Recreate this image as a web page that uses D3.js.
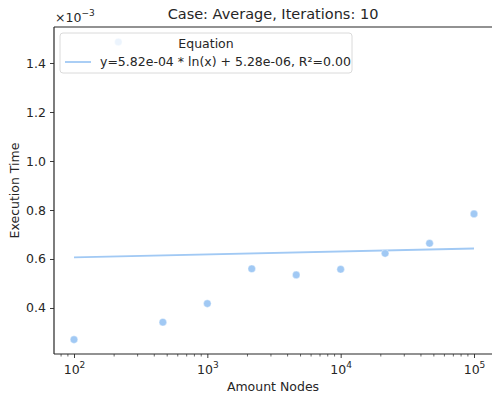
<!DOCTYPE html>
<html>
<head>
<meta charset="utf-8">
<script src="https://cdn.jsdelivr.net/npm/d3@7"></script>
<style>
  body { margin: 0; background: #fff; }
  text { font-family: "DejaVu Sans", sans-serif; fill: #262626; }
</style>
</head>
<body>
<svg id="chart" width="492" height="398"></svg>
<script>
// measured execution times (x1e-3 s) per node count
var nodes = [100, 215, 464, 1000, 2154, 4642, 10000, 21544, 46416, 100000];
var times = [0.271, 1.486, 0.342, 0.418, 0.560, 0.535, 0.558, 0.623, 0.664, 0.784];

// log fit shown in legend
var fitIntercept = 5.82e-4;
var fitSlope = 5.28e-6;
var fitLabel = 'y=5.82e-04 * ln(x) + 5.28e-06, R\u00b2=0.00';

var xTicks = [1e2, 1e3, 1e4, 1e5];
var yTicks = [0.4, 0.6, 0.8, 1.0, 1.2, 1.4];

var color = '#a1c9f4';
var fs = 12.5;

var margin = { top: 27, right: 0, bottom: 44, left: 54 };
var width = 492 - margin.left - margin.right;
var height = 398 - margin.top - margin.bottom;

var svg = d3.select('#chart');
var g = svg.append('g')
    .attr('transform', 'translate(' + margin.left + ',' + margin.top + ')');

var x = d3.scaleLog()
    .domain([Math.pow(10, 1.85), Math.pow(10, 5.135)])
    .range([0, width]);

var y = d3.scaleLinear()
    .domain([0.2122, 1.547])
    .range([height, 0]);

// minor ticks on the log axis
var minor = [];
for (var e = 1; e <= 5; e++) {
  for (var m = 2; m <= 9; m++) {
    var v = m * Math.pow(10, e);
    if (v > x.domain()[0] && v < x.domain()[1]) minor.push(v);
  }
}

var xAxis = g.append('g')
    .attr('transform', 'translate(0,' + height + ')')
    .call(d3.axisBottom(x).tickValues(xTicks).tickSize(4).tickPadding(4).tickFormat(''));

xAxis.selectAll('.tick').append('text')
    .attr('y', 20)
    .attr('text-anchor', 'middle')
    .attr('font-size', fs)
    .html(function(d) {
      return '10<tspan dy="-6" font-size="9">' + Math.round(Math.log10(d)) + '</tspan>';
    });

xAxis.selectAll('.tick.minor').data(minor).enter()
  .append('line')
    .attr('x1', function(d) { return x(d); })
    .attr('x2', function(d) { return x(d); })
    .attr('y1', 0)
    .attr('y2', 2.5)
    .attr('stroke', '#262626')
    .attr('stroke-width', 0.7);

var yAxis = g.append('g')
    .call(d3.axisLeft(y).tickValues(yTicks).tickSize(4).tickPadding(4)
      .tickFormat(d3.format('.1f')));

[xAxis, yAxis].forEach(function(a) {
  a.select('.domain').remove();
  a.selectAll('.tick line').attr('stroke', '#262626').attr('stroke-width', 0.9);
  a.selectAll('.tick text').attr('font-size', fs).style('fill', '#262626')
    .attr('font-family', '"DejaVu Sans", sans-serif');
});

// spines: left, bottom, top
g.append('line').attr('x1', 0).attr('x2', 0).attr('y1', 0).attr('y2', height)
  .attr('stroke', '#262626').attr('stroke-width', 1.2);
g.append('line').attr('x1', 0).attr('x2', width).attr('y1', height).attr('y2', height)
  .attr('stroke', '#262626').attr('stroke-width', 1.2);
g.append('line').attr('x1', 0).attr('x2', width).attr('y1', 0).attr('y2', 0)
  .attr('stroke', '#262626').attr('stroke-width', 1.2);

// fit line
var fitX = [nodes[0], nodes[nodes.length - 1]];
var line = d3.line()
    .x(function(d) { return x(d); })
    .y(function(d) { return y((fitIntercept + fitSlope * Math.log(d)) * 1000); });

g.append('path')
    .datum(fitX)
    .attr('d', line)
    .attr('fill', 'none')
    .attr('stroke', color)
    .attr('stroke-width', 1.8);

// points
g.selectAll('circle.pt').data(nodes).enter()
  .append('circle')
    .attr('class', 'pt')
    .attr('cx', function(d) { return x(d); })
    .attr('cy', function(d, i) { return y(times[i]); })
    .attr('r', 3.8)
    .attr('fill', color)
    .attr('stroke', '#fff')
    .attr('stroke-width', 0.4);

// legend
var lg = g.append('g').attr('transform', 'translate(6,6)');
lg.append('rect')
    .attr('width', 292)
    .attr('height', 40)
    .attr('rx', 3)
    .attr('fill', '#fff')
    .attr('fill-opacity', 0.8)
    .attr('stroke', '#d6d6d6')
    .attr('stroke-width', 0.9);
lg.append('text')
    .attr('x', 146)
    .attr('y', 15)
    .attr('text-anchor', 'middle')
    .attr('font-size', fs)
    .text('Equation');
lg.append('line')
    .attr('x1', 5).attr('x2', 31)
    .attr('y1', 29).attr('y2', 29)
    .attr('stroke', color)
    .attr('stroke-width', 1.8);
lg.append('text')
    .attr('x', 40)
    .attr('y', 33)
    .attr('font-size', fs)
    .text(fitLabel);

// offset text
svg.append('text')
    .attr('x', 55)
    .attr('y', 22)
    .attr('font-size', fs)
    .html('\u00d710<tspan dy="-6" font-size="9">\u22123</tspan>');

// title and labels
svg.append('text')
    .attr('x', margin.left + width / 2)
    .attr('y', 19)
    .attr('text-anchor', 'middle')
    .attr('font-size', 14.5)
    .text('Case: Average, Iterations: 10');

svg.append('text')
    .attr('x', margin.left + width / 2)
    .attr('y', 391)
    .attr('text-anchor', 'middle')
    .attr('font-size', fs)
    .text('Amount Nodes');

svg.append('text')
    .attr('transform', 'translate(19,' + (margin.top + height / 2) + ') rotate(-90)')
    .attr('text-anchor', 'middle')
    .attr('font-size', fs)
    .text('Execution Time');
</script>
</body>
</html>
